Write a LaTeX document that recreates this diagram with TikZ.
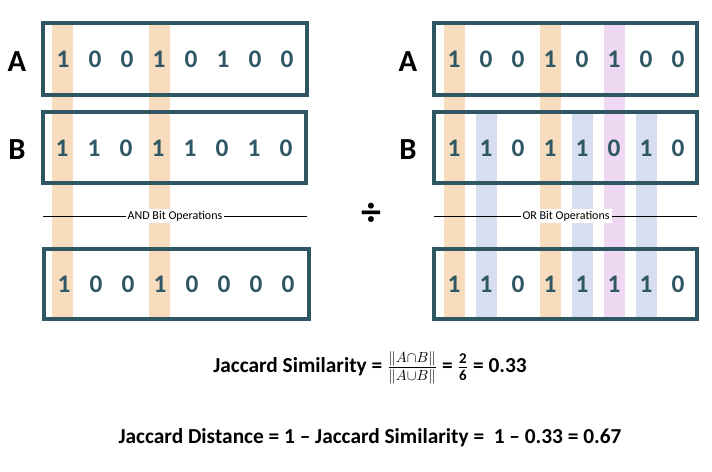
\documentclass[tikz,border=0pt]{standalone}
\usepackage{fontspec}
\setmainfont{Carlito}
\definecolor{teal}{HTML}{2F5763}
\definecolor{ora}{HTML}{F8DCBE}
\definecolor{blu}{HTML}{D6DEF0}
\definecolor{pur}{HTML}{EED8F2}
\tikzset{box/.style={draw=teal,line width=2.4pt},
 digit/.style={text=teal,font=\fontsize{19}{19}\selectfont\bfseries},
 lbl/.style={font=\fontsize{23}{23}\selectfont\bfseries},
 opline/.style={line width=0.75pt},
 optext/.style={fill=white,font=\fontsize{9}{9}\selectfont,inner sep=1.5pt},
 formula/.style={font=\fontsize{16}{16}\selectfont\bfseries}}
\begin{document}
\begin{tikzpicture}[x=0.75pt,y=-0.75pt]
\useasboundingbox (0,0) rectangle (712,471);
% columns
\fill[ora] (52,25) rectangle (73,318);
\fill[ora] (149,25) rectangle (170,318);
\fill[ora] (444,25) rectangle (465,318);
\fill[ora] (540,25) rectangle (561,318);
\fill[pur] (604,25) rectangle (625,318);
\fill[blu] (476,114) rectangle (497,318);
\fill[blu] (572,114) rectangle (593,318);
\fill[blu] (636,114) rectangle (657,318);
% dividers
\coordinate (l1) at (43,216); \coordinate (l2) at (307,216);
\coordinate (r1) at (434,216); \coordinate (r2) at (697,216);
\draw[opline] (l1) -- (l2);
\draw[opline] (r1) -- (r2);
\node[optext] (andt) at (175,216) {AND Bit Operations};
\node[optext] (ort) at (566,216) {OR Bit Operations};
% boxes
\draw[box] (43,23) rectangle (307,95);
\draw[box] (43,112) rectangle (306,183);
\draw[box] (44,249) rectangle (309,319);
\draw[box] (434,23) rectangle (697,95);
\draw[box] (434,112) rectangle (697,183);
\draw[box] (434,249) rectangle (697,319);
\node[lbl] (la) at (17,62) {A};
\node[lbl] (lb) at (17,150) {B};
\node[lbl] (ra) at (408,62) {A};
\node[lbl] (rb) at (408,150) {B};
\foreach \v [count=\i from 0] in {1,0,0,1,0,1,0,0} {\node[digit] (la\i) at (63+32*\i,59) {\v};}
\foreach \v [count=\i from 0] in {1,1,0,1,1,0,1,0} {\node[digit] (lb\i) at (62+32*\i,148) {\v};}
\foreach \v [count=\i from 0] in {1,0,0,1,0,0,0,0} {\node[digit] (lc\i) at (64+32*\i,284) {\v};}
\foreach \v [count=\i from 0] in {1,0,0,1,0,1,0,0} {\node[digit] (ra\i) at (454+32*\i,59) {\v};}
\foreach \v [count=\i from 0] in {1,1,0,1,1,0,1,0} {\node[digit] (rb\i) at (454+32*\i,148) {\v};}
\foreach \v [count=\i from 0] in {1,1,0,1,1,1,1,0} {\node[digit] (rc\i) at (454+32*\i,284) {\v};}
\node[font=\fontsize{30}{30}\selectfont\bfseries] (div) at (371,214) {÷};
\node[formula] (f1) at (370,368) {Jaccard Similarity = $\frac{\|A\cap B\|}{\|A\cup B\|}$ = $\frac{\mathbf{2}}{\mathbf{6}}$ = 0.33};
\node[formula] (f2) at (370,438) {Jaccard Distance = 1 – Jaccard Similarity = \ 1 – 0.33 = 0.67};
\end{tikzpicture}
\end{document}
